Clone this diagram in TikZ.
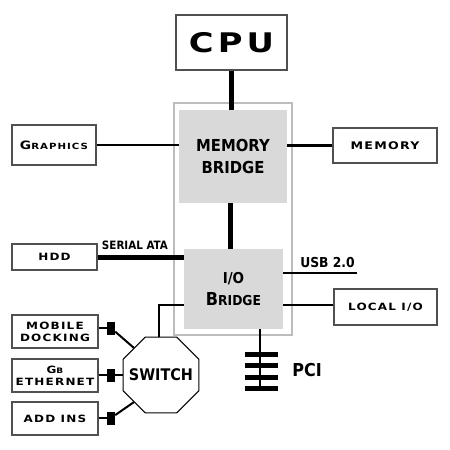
\documentclass[tikz,border=0pt]{standalone}
\usepackage{fontspec}
\usetikzlibrary{shapes.geometric}
\newfontfamily\boxfont{DejaVu Sans Bold}[FakeStretch=1.2,LetterSpace=12]
\newfontfamily\cpufont{DejaVu Sans Bold}[FakeStretch=1.25,LetterSpace=15]
\newfontfamily\techfont{DejaVu Sans Bold}[FakeStretch=0.9]
\newcommand\smc[4]{{\fontsize{#1}{#1}\selectfont #3}{\fontsize{#2}{#2}\selectfont #4}}
\definecolor{bridgefill}{HTML}{D9D9D9}
\definecolor{outergray}{HTML}{BDBDBD}
\definecolor{boxgray}{HTML}{505050}
\begin{document}
\begin{tikzpicture}[x=1pt,y=-1pt,
  box/.style={draw=boxgray, line width=1.3pt, fill=white, inner sep=0pt, align=center},
  boxtxt/.style={font={\boxfont\fontsize{10}{12}\selectfont}},
  bridge/.style={fill=bridgefill, inner sep=0pt, align=center},
  heavy/.style={line width=5pt},
  med/.style={line width=2.5pt},
  thinl/.style={line width=2pt},
  sq/.style={fill=black, minimum width=8pt, minimum height=13pt, inner sep=0pt},
  lbl/.style={inner sep=0pt}]
\useasboundingbox (0,0) rectangle (450,450);
\fill[white] (0,0) rectangle (450,450);
% outer frame
\node[draw=outergray, line width=1.5pt, minimum width=118pt, minimum height=232pt, inner sep=0pt] (outer) at (233,219) {};
% bridges
\node[bridge, minimum width=108pt, minimum height=93pt, font={\techfont\fontsize{16.5}{22}\selectfont}] (mb) at (233,156.5) {MEMORY\\BRIDGE};
\node[bridge, minimum width=99pt, minimum height=80pt, font={\techfont\fontsize{15}{22}\selectfont}] (iob) at (233.5,289) {I/O\\\smc{17.8}{13.7}{B}{RIDGE}};
% boxes
\node[box, minimum width=111pt, minimum height=55pt, font={\cpufont\fontsize{27}{27}\selectfont}] (cpu) at (231.5,42.5) {CPU};
\node[box, boxtxt, minimum width=84pt, minimum height=40pt] (gfx) at (54,145) {\smc{11.5}{8.5}{G}{RAPHICS}};
\node[box, boxtxt, minimum width=104pt, minimum height=35pt, font={\boxfont\fontsize{10.5}{12}\selectfont}] (mem) at (385,145.5) {MEMORY};
\node[box, boxtxt, minimum width=85pt, minimum height=26pt] (hdd) at (54.5,257) {HDD};
\node[box, boxtxt, minimum width=103pt, minimum height=36pt] (lio) at (385.5,307) {LOCAL I/O};
\node[box, boxtxt, minimum width=86pt, minimum height=33pt] (md) at (55,331.5) {MOBILE\\DOCKING};
\node[box, boxtxt, minimum width=86pt, minimum height=33pt] (gb) at (55,375.5) {\smc{10}{7.5}{G}{B}\\ETHERNET};
\node[box, boxtxt, minimum width=86pt, minimum height=33pt] (add) at (55,418.5) {ADD INS};
% switch
\node[regular polygon, regular polygon sides=8, draw=black, line width=1pt, fill=white, minimum size=82pt, inner sep=0pt,
  label={[font={\techfont\fontsize{16}{16}\selectfont}, inner sep=0pt]center:SWITCH}] (sw) at (161,375) {};
% squares
\node[sq] (s1) at (111,328) {};
\node[sq] (s2) at (111,375) {};
\node[sq] (s3) at (111,418) {};
% coordinates
\coordinate (usbend) at (357,273);
\coordinate (ioy) at (300,305);
\coordinate (pcib) at (260,391);
% connectors
\draw[heavy] (cpu.south) -- (cpu.south |- mb.north);
\draw[heavy] ([xshift=-3pt]mb.south) -- ([xshift=-3pt]mb.south |- iob.north);
\draw[med] (gfx.east) -- (gfx.east -| mb.west);
\draw[med] (mem.west) -- (mem.west -| mb.east);
\draw[heavy] (hdd.east) -- (hdd.east -| iob.west);
\draw[med] (iob.east |- usbend) -- (usbend);
\draw[med] (iob.east |- ioy) -- (lio.west |- ioy);
\draw[med] (iob.west |- ioy) -| ([xshift=-2pt]sw.north);
\draw[med] (iob.south -| pcib) -- (pcib);
\foreach \yy in {354.5,365.5,377.5,388.5}
  \draw[heavy, line width=5pt] (245,\yy) -- (278,\yy);
\draw[thinl] (md.east |- s1) -- (s1);
\draw[thinl] (gb.east |- s2) -- (s2);
\draw[thinl] (add.east |- s3) -- (s3);
\draw[thinl] (s1) -- (sw.135);
\draw[thinl] (s2) -- (sw.180);
\draw[thinl] (s3) -- (sw.225);
% labels
\node[lbl, font={\techfont\fontsize{11.5}{11.5}\selectfont}] (sata) at (135,245) {SERIAL ATA};
\node[lbl, font={\techfont\fontsize{13.7}{13.7}\selectfont}] (usb) at (327.5,263) {USB 2.0};
\node[lbl, font={\techfont\fontsize{17.8}{17.8}\selectfont}] (pci) at (307,370) {PCI};
\end{tikzpicture}
\end{document}
